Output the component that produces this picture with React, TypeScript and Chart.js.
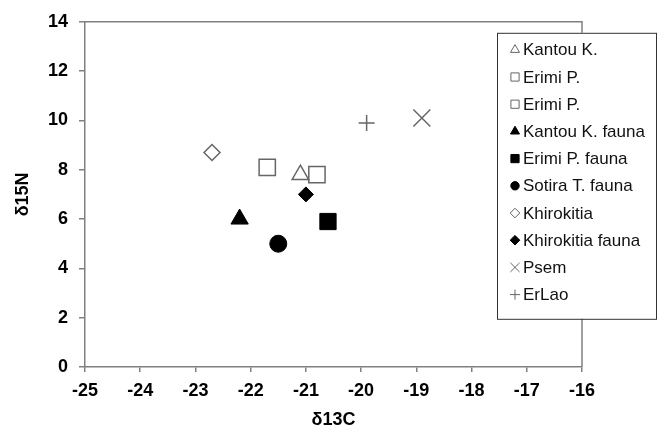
import React, { useEffect, useRef } from "react";
import { Chart, registerables } from "chart.js";
import { drawPoint } from "chart.js/helpers";

Chart.register(...registerables);

// ---- data ----
const seriesNames = [
  "Kantou K.",
  "Erimi P.",
  "Erimi P.",
  "Kantou K. fauna",
  "Erimi P. fauna",
  "Sotira T. fauna",
  "Khirokitia",
  "Khirokitia fauna",
  "Psem",
  "ErLao",
];
const carbonValues = [-21.1, -21.7, -20.8, -22.2, -20.6, -21.5, -22.7, -21.0, -18.9, -19.9];
const nitrogenValues = [7.8, 8.1, 7.8, 6.0, 5.9, 5.0, 8.7, 7.0, 10.1, 9.9];

const xMin = -25;
const xMax = -16;
const yMin = 0;
const yMax = 14;

// ---- styles ----
const GRAY = "#666666";
const AXIS = "#808080";
const FONT = "'Liberation Sans', Arial, sans-serif";

const markerStyles = [
  { pointStyle: "triangle", radius: 9.5, fill: "#ffffff", stroke: GRAY, lw: 1.5, lr: 5.2 },
  { pointStyle: "rect", radius: 11.5, fill: "#ffffff", stroke: GRAY, lw: 1.5, lr: 5.8 },
  { pointStyle: "rect", radius: 11.5, fill: "#ffffff", stroke: GRAY, lw: 1.5, lr: 5.8 },
  { pointStyle: "triangle", radius: 10, fill: "#000000", stroke: "#000000", lw: 1, lr: 5.2 },
  { pointStyle: "rect", radius: 11.5, fill: "#000000", stroke: "#000000", lw: 1, lr: 5.8 },
  { pointStyle: "circle", radius: 8.5, fill: "#000000", stroke: "#000000", lw: 1, lr: 4.2 },
  { pointStyle: "rectRot", radius: 8, fill: "#ffffff", stroke: GRAY, lw: 1.5, lr: 4.8 },
  { pointStyle: "rectRot", radius: 7.5, fill: "#000000", stroke: "#000000", lw: 1, lr: 4.8 },
  { pointStyle: "crossRot", radius: 12, fill: GRAY, stroke: GRAY, lw: 1.5, lr: 6.5 },
  { pointStyle: "cross", radius: 8, fill: GRAY, stroke: GRAY, lw: 1.5, lr: 5 },
];

const framePlugin = {
  id: "frame",
  beforeDatasetsDraw(chart: any) {
    const { ctx, chartArea } = chart;
    ctx.save();
    ctx.strokeStyle = AXIS;
    ctx.lineWidth = 1.5;
    ctx.beginPath();
    ctx.moveTo(chartArea.left, chartArea.top);
    ctx.lineTo(chartArea.right, chartArea.top);
    ctx.lineTo(chartArea.right, chartArea.bottom);
    ctx.stroke();
    ctx.restore();
  },
};

const boxLegendPlugin = {
  id: "boxLegend",
  afterDraw(chart: any) {
    const { ctx, chartArea } = chart;
    const x0 = chartArea.right - 85;
    const y0 = chartArea.top + 11;
    const w = 159;
    const h = 286;
    const rowH = 27.2;
    ctx.save();
    ctx.fillStyle = "#ffffff";
    ctx.fillRect(x0, y0, w, h);
    ctx.strokeStyle = "#333333";
    ctx.lineWidth = 1;
    ctx.strokeRect(x0 + 0.5, y0 + 0.5, w, h);
    ctx.font = `17px ${FONT}`;
    ctx.textBaseline = "middle";
    ctx.textAlign = "left";
    seriesNames.forEach((name, i) => {
      const m = markerStyles[i];
      const cy = y0 + 17 + i * rowH;
      const cx = x0 + 18;
      ctx.fillStyle = m.fill;
      ctx.strokeStyle = m.stroke;
      ctx.lineWidth = 1;
      drawPoint(ctx, { pointStyle: m.pointStyle, radius: m.lr, rotation: 0, borderWidth: 1 } as any, cx, cy);
      ctx.fillStyle = "#111111";
      ctx.fillText(name, x0 + 26, cy + 1);
    });
    ctx.restore();
  },
};

export default function App() {
  const canvasRef = useRef<HTMLCanvasElement | null>(null);

  useEffect(() => {
    document.body.style.margin = "0";
    const canvas = canvasRef.current;
    if (!canvas) return;

    const datasets = seriesNames.map((name, i) => {
      const m = markerStyles[i];
      return {
        label: name,
        data: [{ x: carbonValues[i], y: nitrogenValues[i] }],
        pointStyle: m.pointStyle,
        pointRadius: m.radius,
        pointHoverRadius: m.radius,
        backgroundColor: m.fill,
        borderColor: m.stroke,
        borderWidth: m.lw,
        showLine: false,
      };
    });

    const tickFont = { family: FONT, size: 18, weight: "bold" as const };

    const chart = new Chart(canvas, {
      type: "scatter",
      data: { datasets: datasets as any },
      options: {
        animation: false,
        responsive: false,
        maintainAspectRatio: false,
        layout: { padding: { top: 20, right: 82, left: 0, bottom: 0 } },
        plugins: {
          legend: { display: false },
          tooltip: { enabled: false },
        },
        scales: {
          x: {
            type: "linear",
            min: xMin,
            max: xMax,
            afterFit: (scale: any) => {
              scale.height = 69;
            },
            ticks: { stepSize: 1, color: "#000", font: tickFont, padding: 8 },
            grid: { display: true, drawOnChartArea: false, drawTicks: true, tickLength: 5, color: AXIS, lineWidth: 1.5 },
            border: { display: true, color: AXIS, width: 1.5 },
            title: { display: true, text: "δ13C", color: "#000", font: tickFont, padding: { top: 0, bottom: 5 } },
          },
          y: {
            type: "linear",
            min: yMin,
            max: yMax,
            afterFit: (scale: any) => {
              scale.width = 85;
            },
            ticks: { stepSize: 2, color: "#000", font: tickFont, padding: 11 },
            grid: { display: true, drawOnChartArea: false, drawTicks: true, tickLength: 6, color: AXIS, lineWidth: 1.5 },
            border: { display: true, color: AXIS, width: 1.5 },
            title: { display: true, text: "δ15N", color: "#000", font: tickFont, padding: { top: 12, bottom: 0 } },
          },
        },
      },
      plugins: [framePlugin, boxLegendPlugin],
    });

    return () => chart.destroy();
  }, []);

  return (
    <div style={{ width: 664, height: 436, background: "#fff" }}>
      <canvas ref={canvasRef} width={664} height={436} style={{ display: "block" }} />
    </div>
  );
}
